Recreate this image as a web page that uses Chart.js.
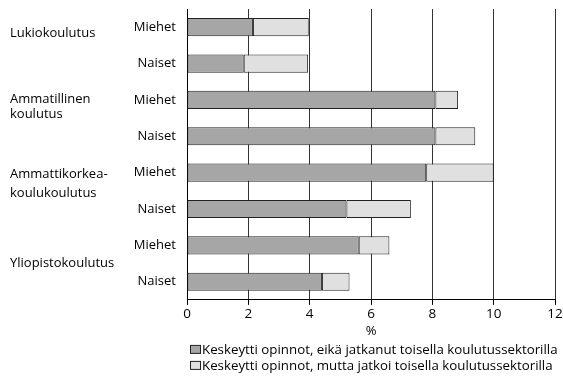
<!DOCTYPE html>
<html>
<head>
<meta charset="utf-8">
<script src="https://cdn.jsdelivr.net/npm/chart.js@4"></script>
<style>
  html, body { margin: 0; padding: 0; background: #fff; }
  #wrap { width: 563px; height: 376px; }
</style>
</head>
<body>
<div id="wrap"><canvas id="chart"></canvas></div>
<script>
const categories = ['Miehet', 'Naiset', 'Miehet', 'Naiset', 'Miehet', 'Naiset', 'Miehet', 'Naiset']
const groupLabels = [
  ['Lukiokoulutus'],
  ['Ammatillinen', 'koulutus'],
  ['Ammattikorkea-', 'koulukoulutus'],
  ['Yliopistokoulutus']
]
const dropped = [2.15, 1.85, 8.1, 8.1, 7.8, 5.2, 5.6, 4.4]
const continued = [1.82, 2.1, 0.74, 1.3, 2.2, 2.1, 1.0, 0.9]
const xTicks = [0, 2, 4, 6, 8, 10, 12]
const seriesNames = [
  'Keskeytti opinnot, eikä jatkanut toisella koulutussektorilla',
  'Keskeytti opinnot, mutta jatkoi toisella koulutussektorilla'
]

const FONT = 'Open Sans'

;(() => {
  const canvas = document.getElementById('chart')

  // group labels on the far left, placed relative to the first bar of each group
  const groupLabelPlugin = {
    id: 'groupLabels',
    afterDraw(chart) {
      const ctx = chart.ctx
      const y = chart.scales.y
      const offsets = [6, -1, 2, 18]
      const lineGap = [15, 15, 19, 15]
      ctx.save()
      ctx.font = '13px "' + FONT + '"'
      ctx.fillStyle = '#000'
      ctx.textAlign = 'left'
      ctx.textBaseline = 'middle'
      groupLabels.forEach((lines, g) => {
        const base = y.getPixelForValue(g * 2) + offsets[g]
        lines.forEach((line, i) => ctx.fillText(line, 10, base + i * lineGap[g]))
      })
      ctx.restore()
    }
  }

  // legend drawn by hand: box tight against the text, one row per series
  const legendPlugin = {
    id: 'tightLegend',
    afterDraw(chart) {
      const ctx = chart.ctx
      const left = chart.chartArea.left + 3
      const top = chart.chartArea.bottom + 50
      ctx.save()
      ctx.font = '13.3px "' + FONT + '"'
      ctx.textBaseline = 'middle'
      ctx.textAlign = 'left'
      chart.data.datasets.forEach((ds, i) => {
        const cy = top + i * 16
        ctx.fillStyle = ds.backgroundColor
        ctx.fillRect(left + 0.5, cy - 4.5, 10, 8)
        ctx.strokeStyle = '#222'
        ctx.lineWidth = 1
        ctx.strokeRect(left + 0.5, cy - 4.5, 10, 8)
        ctx.fillStyle = '#000'
        ctx.fillText(ds.label, left + 12, cy)
      })
      ctx.restore()
    }
  }

  const data = {
    labels: categories,
    datasets: [{
      label: seriesNames[0],
      data: dropped,
      backgroundColor: '#a6a6a6',
      borderColor: '#222',
      borderWidth: 1,
      borderSkipped: false,
      barPercentage: 0.5,
      categoryPercentage: 1
    }, {
      label: seriesNames[1],
      data: continued,
      backgroundColor: '#e0e0e0',
      borderColor: '#222',
      borderWidth: 1,
      borderSkipped: false,
      barPercentage: 0.5,
      categoryPercentage: 1
    }]
  }

  const options = {
    indexAxis: 'y',
    responsive: true,
    maintainAspectRatio: false,
    animation: false,
    layout: {
      padding: {left: 0, right: 8, top: 9, bottom: 37}
    },
    plugins: {
      tooltip: {enabled: false},
      legend: {display: false}
    },
    scales: {
      x: {
        stacked: true,
        min: 0,
        max: 12,
        afterBuildTicks: (scale) => { scale.ticks = xTicks.map(v => ({value: v})) },
        afterFit: (scale) => {
          scale.paddingLeft = 0
          scale.paddingRight = 0
        },
        border: {display: true, color: '#000', width: 1},
        grid: {
          color: '#333',
          lineWidth: 1,
          drawTicks: true,
          tickLength: 5,
          tickColor: '#000'
        },
        ticks: {
          color: '#000',
          padding: 3,
          maxRotation: 0,
          font: {family: FONT, size: 13.5, lineHeight: 1}
        },
        title: {
          display: true,
          text: '%',
          color: '#000',
          padding: {top: -1, bottom: 0},
          font: {family: FONT, size: 13}
        }
      },
      y: {
        stacked: true,
        afterFit: (scale) => {
          scale.width = 187
          scale.paddingTop = 0
          scale.paddingBottom = 0
        },
        border: {display: true, color: '#000', width: 1},
        grid: {display: false, drawTicks: false},
        ticks: {
          color: '#000',
          padding: 11,
          font: {family: FONT, size: 13}
        }
      }
    }
  }

  new Chart(canvas, {
    type: 'bar',
    data: data,
    options: options,
    plugins: [groupLabelPlugin, legendPlugin]
  })
})();
</script>
</body>
</html>
